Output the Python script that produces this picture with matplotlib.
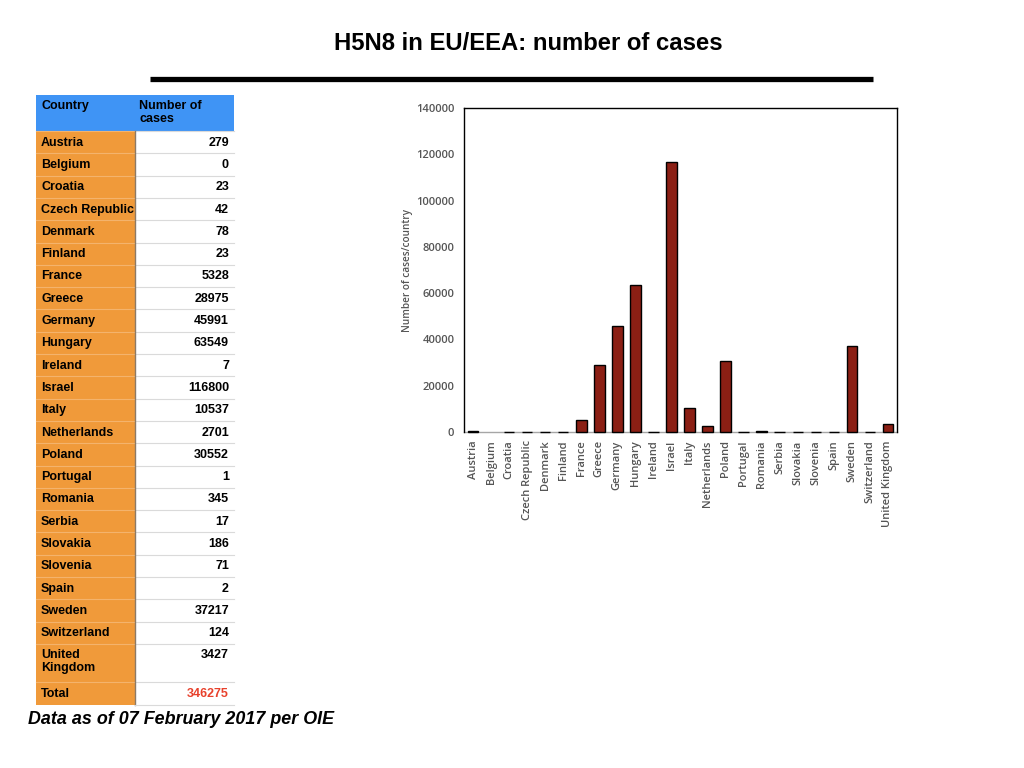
import matplotlib
matplotlib.use("Agg")
import matplotlib.pyplot as plt
from matplotlib.patches import Rectangle
from matplotlib.lines import Line2D

countries = ["Austria", "Belgium", "Croatia", "Czech Republic", "Denmark", "Finland",
             "France", "Greece", "Germany", "Hungary", "Ireland", "Israel", "Italy",
             "Netherlands", "Poland", "Portugal", "Romania", "Serbia", "Slovakia",
             "Slovenia", "Spain", "Sweden", "Switzerland", "United Kingdom"]
cases = [279, 0, 23, 42, 78, 23, 5328, 28975, 45991, 63549, 7, 116800, 10537,
         2701, 30552, 1, 345, 17, 186, 71, 2, 37217, 124, 3427]
total_label = "Total"
total_value = 346275
y_ticks = [0, 20000, 40000, 60000, 80000, 100000, 120000, 140000]

W, H = 1024, 768
fig = plt.figure(figsize=(W / 100, H / 100), dpi=100)

# overlay axes in pixel coordinates (y downwards)
bg = fig.add_axes([0, 0, 1, 1])
bg.set_xlim(0, W)
bg.set_ylim(H, 0)
bg.axis("off")

bg.text(528, 43, "H5N8 in EU/EEA: number of cases", ha="center", va="center",
        fontsize=17.2, fontweight="bold", family="Liberation Sans", color="black")
bg.add_line(Line2D([150, 873], [78.5, 78.5], color="black", lw=3.8, solid_capstyle="butt"))

# table
x0, x1, x2 = 36, 135, 234
header_top, header_bot = 95, 131
row_h = 22.3
orange = "#F09A3A"
blue = "#3F94F5"
font_kw = dict(fontsize=9, fontweight="bold", family="Liberation Sans")

bg.add_patch(Rectangle((x0, header_top), x2 - x0, header_bot - header_top,
                       facecolor=blue, edgecolor="none"))
bg.text(x0 + 5, header_top + 5, "Country", ha="left", va="top", **font_kw)
bg.text(x1 + 4, header_top + 5, "Number of\ncases", ha="left", va="top",
        linespacing=1.15, **font_kw)

labels = [c if c != "United Kingdom" else "United\nKingdom" for c in countries] + [total_label]
values = [str(v) for v in cases] + [str(total_value)]
y = header_bot
for i, (lab, val) in enumerate(zip(labels, values)):
    h = row_h * (1.72 if "\n" in lab else 1.0)
    bg.add_patch(Rectangle((x0, y), x1 - x0, h, facecolor=orange, edgecolor="none"))
    bg.add_patch(Rectangle((x1, y), x2 - x1, h, facecolor="white", edgecolor="none"))
    bg.add_line(Line2D([x0, x1], [y, y], color="#F4B36C", lw=0.8))
    bg.add_line(Line2D([x1, x2], [y, y], color="#DADADA", lw=0.8))
    if "\n" in lab:
        bg.text(x0 + 5, y + 5, lab, ha="left", va="top", linespacing=1.15, **font_kw)
        bg.text(x2 - 5, y + 5, val, ha="right", va="top", **font_kw)
    else:
        col = "#E8412C" if lab == total_label else "black"
        bg.text(x0 + 5, y + h / 2 + 0.5, lab, ha="left", va="center", **font_kw)
        bg.text(x2 - 5, y + h / 2 + 0.5, val, ha="right", va="center", color=col, **font_kw)
    y += h
bg.add_line(Line2D([x1, x1], [header_bot, y], color="#8C7A66", lw=1.0))
bg.add_line(Line2D([x1, x2], [y, y], color="#DADADA", lw=0.8))

bg.text(28, 719, "Data as of 07 February 2017 per OIE", ha="left", va="center",
        fontsize=12.9, fontweight="bold", fontstyle="italic", family="Liberation Sans")

# chart
ax = fig.add_axes([464 / W, 1 - 432 / H, 433 / W, 324 / H])
xpos = list(range(len(countries)))
bars = ax.bar(xpos, cases, width=0.58, color="#8B1F14", edgecolor="black",
              linewidth=[1.0 if v > 0 else 0.0 for v in cases], zorder=3)
for b in bars:
    b.set_clip_on(False)
ax.set_xlim(-0.5, len(countries) - 0.5)
ax.set_ylim(0, 140000)
ax.set_yticks(y_ticks)
ax.set_yticklabels([str(t) for t in y_ticks])
ax.set_xticks(xpos)
ax.set_xticklabels(countries, rotation=90)
gray = "#555555"
ax.tick_params(axis="both", length=0, labelsize=8, labelcolor=gray)
ax.tick_params(axis="x", pad=6)
ax.tick_params(axis="y", pad=7)
for lbl in ax.get_xticklabels() + ax.get_yticklabels():
    lbl.set_family("Open Sans")
    lbl.set_fontweight("semibold")
ax.set_ylabel("Number of cases/country", fontsize=7.2, color=gray, family="Open Sans",
              fontweight="semibold", labelpad=2)
for s in ["left", "top", "right"]:
    ax.spines[s].set_color("black")
    ax.spines[s].set_linewidth(1.0)
ax.spines["bottom"].set_color("#A6A6A6")
ax.spines["bottom"].set_linewidth(1.0)
ax.spines["bottom"].set_zorder(1)

fig.savefig("out.png", dpi=100)
